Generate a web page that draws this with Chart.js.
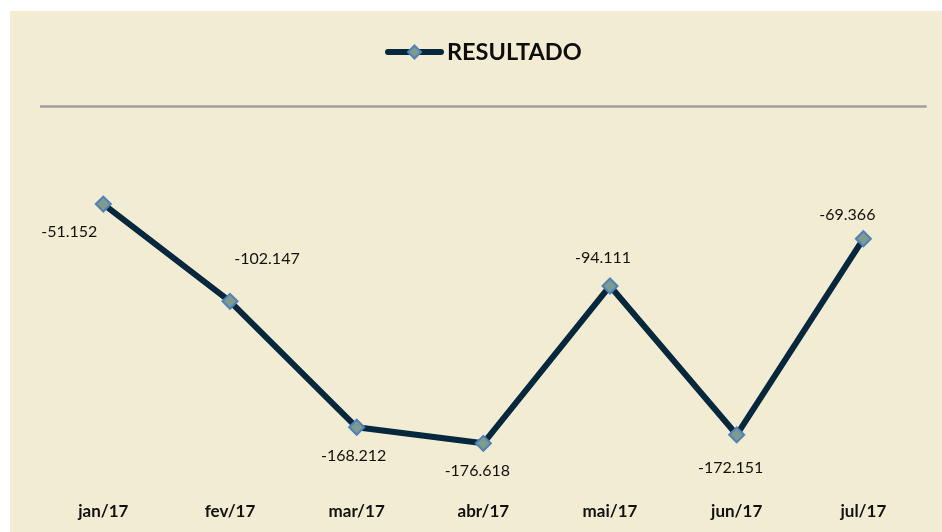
<!DOCTYPE html>
<html>
<head>
<meta charset="utf-8">
<script src="https://cdn.jsdelivr.net/npm/chart.js@4"></script>
<style>
  html, body { margin: 0; padding: 0; background: #fff; }
  #wrap { position: absolute; left: 10px; top: 11px; width: 932px; height: 521px; background: #F2ECD2; }
</style>
</head>
<body>
<div id="wrap"><canvas id="chart" width="932" height="521"></canvas></div>
<script>
// data
const MONTHS = ['jan/17','fev/17','mar/17','abr/17','mai/17','jun/17','jul/17'];
const RESULTADO = [-51.152, -102.147, -168.212, -176.618, -94.111, -172.151, -69.366];
const LABELS = ['-51.152','-102.147','-168.212','-176.618','-94.111','-172.151','-69.366'];

// where each value label sits relative to its point (dx, dy)
const labelShift = [[-34, 28], [37, -42], [-3, 29], [-6, 28], [-7, -28], [-6, 33], [-16, -24]];

const LINE = '#06283E';
const MARK_FILL = '#7E9C8C';
const MARK_EDGE = '#4F81BD';
const FONT = 'Lato, "Open Sans", sans-serif';

function diamond(ctx, x, y, r) {
  ctx.beginPath();
  ctx.moveTo(x, y - r);
  ctx.lineTo(x + r, y);
  ctx.lineTo(x, y + r);
  ctx.lineTo(x - r, y);
  ctx.closePath();
  ctx.fillStyle = MARK_FILL;
  ctx.fill();
  ctx.lineWidth = 2;
  ctx.strokeStyle = MARK_EDGE;
  ctx.stroke();
}

const extras = {
  id: 'extras',
  beforeDatasetsDraw(chart) {
    const { ctx, chartArea, scales } = chart;
    const y0 = scales.y.getPixelForValue(0);
    ctx.save();
    ctx.strokeStyle = '#9E9E9E';
    ctx.lineWidth = 2.5;
    ctx.beginPath();
    ctx.moveTo(chartArea.left, y0);
    ctx.lineTo(chartArea.right, y0);
    ctx.stroke();
    ctx.restore();
  },
  afterDatasetsDraw(chart) {
    const { ctx } = chart;
    const pts = chart.getDatasetMeta(0).data;
    ctx.save();
    ctx.font = '16px ' + FONT;
    ctx.fillStyle = '#111';
    ctx.textAlign = 'center';
    ctx.textBaseline = 'middle';
    pts.forEach((p, i) => {
      ctx.fillText(LABELS[i], p.x + labelShift[i][0], p.y + labelShift[i][1]);
    });

    // legend
    ctx.strokeStyle = LINE;
    ctx.lineWidth = 6;
    ctx.lineCap = 'round';
    ctx.beginPath();
    ctx.moveTo(378, 41);
    ctx.lineTo(431, 41);
    ctx.stroke();
    diamond(ctx, 404.5, 41, 6.5);
    ctx.font = 'bold 23.5px ' + FONT;
    ctx.fillStyle = '#0d0d0d';
    ctx.textAlign = 'left';
    ctx.fillText('RESULTADO', 437, 41);
    ctx.restore();
  }
};

new Chart(document.getElementById('chart'), {
  type: 'line',
  data: {
    labels: MONTHS,
    datasets: [{
      label: 'RESULTADO',
      data: RESULTADO,
      borderColor: LINE,
      borderWidth: 6,
      borderJoinStyle: 'round',
      tension: 0,
      pointStyle: 'rectRot',
      pointRadius: 7.5,
      pointBackgroundColor: MARK_FILL,
      pointBorderColor: MARK_EDGE,
      pointBorderWidth: 2,
      fill: false
    }]
  },
  options: {
    responsive: false,
    animation: false,
    layout: { padding: { left: 30, right: 15.3, top: 95.5, bottom: 10.7 } },
    plugins: { legend: { display: false }, tooltip: { enabled: false } },
    scales: {
      x: {
        offset: true,
        grid: { display: false, drawTicks: false },
        border: { display: false },
        ticks: { color: '#111', padding: 13.6, font: { family: FONT, size: 17, weight: 'bold' } },
        afterFit(scale) { scale.height = 33.4; }
      },
      y: {
        display: false,
        min: -200,
        max: 0
      }
    }
  },
  plugins: [extras]
});
</script>
</body>
</html>
